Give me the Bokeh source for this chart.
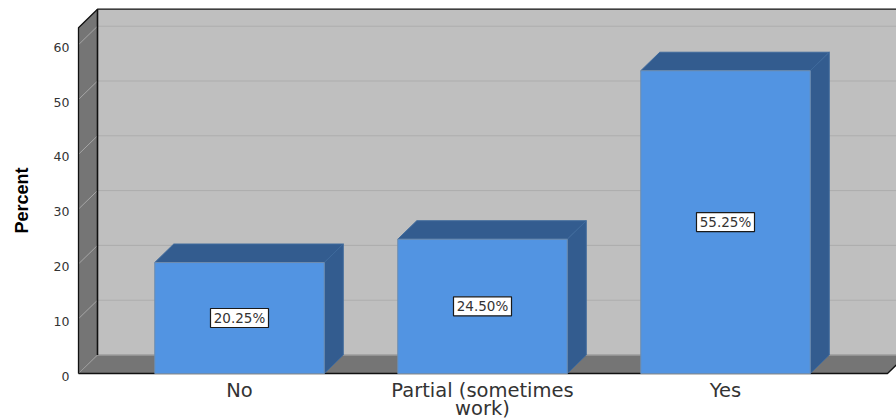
import math

from bokeh.core.properties import value
from bokeh.embed import file_html
from bokeh.models import ColumnDataSource, FixedTicker, Label, LinearAxis, Range1d
from bokeh.plotting import figure
from bokeh.resources import INLINE

categories = ["No", "Partial (sometimes", "Yes"]
category_second_line = {1: "work)"}
percentages = [20.25, 24.50, 55.25]
percent_labels = ["20.25%", "24.50%", "55.25%"]
y_ticks = [0, 10, 20, 30, 40, 50, 60]

# Scale and 3D projection settings
WIDTH, HEIGHT = 896, 419
X_UNIT = 243.0          # pixels per category
Y_UNIT = 5.48           # pixels per percent
X_ORIGIN = 239.0        # canvas x of the first category
Y_ORIGIN = 373.0        # canvas y of zero percent
DX = 19 / X_UNIT        # depth offset along x, in data units
DY = 18.5 / Y_UNIT      # depth offset along y, in data units
BAR_W = 169.5 / X_UNIT
WALL_TOP = 63.1
LEFT = -161 / X_UNIT
RIGHT = 648 / X_UNIT
TICK_LABEL_DROP = 2.5 / Y_UNIT   # tick labels sit slightly below their gridline ends

WALL = "#bfbfbf"
SIDE = "#757575"
FRONT = "#5294e2"
SHADE = "#335c8f"
EDGE = "#3f6a9c"
TEXT = "#333333"

# The plot frame fills the canvas; both axes are pinned inside it
y_start = -(HEIGHT - Y_ORIGIN) / Y_UNIT
y_end = Y_ORIGIN / Y_UNIT
p = figure(
    width=WIDTH, height=HEIGHT, output_backend="svg", toolbar_location=None,
    x_range=Range1d(-X_ORIGIN / X_UNIT, (WIDTH - X_ORIGIN) / X_UNIT),
    y_range=Range1d(y_start, y_end),
    y_axis_location=None,
    min_border_left=0, min_border_right=0, min_border_top=0, min_border_bottom=0,
    outline_line_color=None, background_fill_color="white", border_fill_color="white",
)
p.grid.visible = False

# Back wall, floor and left wall
p.patch([LEFT + DX, RIGHT + 2 * DX, RIGHT + 2 * DX, LEFT + DX],
        [DY, DY, WALL_TOP + DY, WALL_TOP + DY], fill_color=WALL, line_color=None)
p.patch([LEFT, RIGHT, RIGHT + DX, LEFT + DX], [0, 0, DY, DY], fill_color=SIDE, line_color=None)
p.patch([LEFT, LEFT + DX, LEFT + DX, LEFT], [0, DY, WALL_TOP + DY, WALL_TOP],
        fill_color=SIDE, line_color=None)

# Gridlines run across the back wall and slant down the left wall
grid = [t for t in y_ticks if t > 0]
p.segment([LEFT + DX] * len(grid), [t + DY for t in grid],
          [RIGHT + 2 * DX] * len(grid), [t + DY for t in grid], line_color="#adadad", line_width=1)
p.segment([LEFT] * len(grid), grid, [LEFT + DX] * len(grid), [t + DY for t in grid],
          line_color="#a6a6a6", line_width=1)
p.segment([LEFT], [0], [LEFT + DX], [DY], line_color="#9a9a9a", line_width=1)
p.segment([LEFT + DX], [DY], [RIGHT + 2 * DX], [DY], line_color="#9c9c9c", line_width=1.5)

# Dark frame edges of the box
p.line([LEFT, LEFT, LEFT + DX, RIGHT + 2 * DX], [0, WALL_TOP, WALL_TOP + DY, WALL_TOP + DY],
       line_color="#111111", line_width=1.3)
p.line([LEFT + DX, LEFT + DX], [DY, WALL_TOP + DY], line_color="#111111", line_width=1.6)
p.line([LEFT, RIGHT, RIGHT + DX], [0, 0, DY], line_color="#111111", line_width=1.3)

# Bars: top and side faces first, then the front
for i, v in enumerate(percentages):
    x0, x1 = i - BAR_W / 2, i + BAR_W / 2
    p.patch([x0, x1, x1 + DX, x0 + DX], [v, v, v + DY, v + DY],
            fill_color=SHADE, line_color=EDGE, line_width=1)
    p.patch([x1, x1 + DX, x1 + DX, x1], [0, DY, v + DY, v],
            fill_color=SHADE, line_color=EDGE, line_width=1)
    p.quad(left=[x0], right=[x1], bottom=[0], top=[v],
           fill_color=FRONT, line_color="#6e8cae", line_width=1)

# Value labels in white boxes at mid-height of each bar
src = ColumnDataSource(dict(
    x=list(range(len(percentages))),
    y=[v / 2 for v in percentages],
    label=percent_labels,
))
p.rect("x", "y", width=58, height=19, width_units="screen", height_units="screen", source=src,
       fill_color="white", line_color="#1a1a1a", line_width=1.2)
p.text("x", "y", text="label", source=src, text_align="center", text_baseline="middle",
       text_font=value("DejaVu Sans"), text_font_size="13.5px", text_color=TEXT)

# Percent axis, on its own range so the labels can hang a little below the gridlines
p.extra_y_ranges = {"ticks": Range1d(y_start + TICK_LABEL_DROP, y_end + TICK_LABEL_DROP)}
y_axis = LinearAxis(
    y_range_name="ticks",
    fixed_location=LEFT,
    ticker=FixedTicker(ticks=y_ticks),
    axis_line_color=None,
    major_tick_line_color=None,
    minor_tick_line_color=None,
    major_tick_in=0,
    major_tick_out=0,
    minor_tick_out=0,
    major_label_standoff=9,
    major_label_text_font="DejaVu Sans",
    major_label_text_font_size="12.5px",
    major_label_text_color=TEXT,
)
p.add_layout(y_axis, "left")

# Category axis
p.xaxis.fixed_location = 0
p.xaxis.ticker = FixedTicker(ticks=list(range(len(categories))))
p.xaxis.major_label_overrides = {i: c for i, c in enumerate(categories)}
p.xaxis.axis_line_color = None
p.xaxis.major_tick_line_color = None
p.xaxis.minor_tick_line_color = None
p.xaxis.major_tick_in = 0
p.xaxis.major_tick_out = 0
p.xaxis.minor_tick_out = 0
p.xaxis.major_label_standoff = 5
p.xaxis.major_label_orientation = "horizontal"
p.xaxis.major_label_text_font = "DejaVu Sans"
p.xaxis.major_label_text_font_size = "19.5px"
p.xaxis.major_label_text_color = TEXT

# The long category wraps onto a second line beneath its tick label
for i, line in category_second_line.items():
    p.add_layout(Label(x=i, y=11, x_units="data", y_units="screen", level="overlay",
                       text=line, text_align="center", text_baseline="middle",
                       text_font="DejaVu Sans", text_font_size="19.5px", text_color=TEXT))

# Axis title at the left edge of the canvas
p.add_layout(Label(x=21, y=219, x_units="screen", y_units="screen", level="overlay",
                   text="Percent", angle=math.pi / 2, text_align="center", text_baseline="middle",
                   text_font="Liberation Sans", text_font_style="bold",
                   text_font_size="18px", text_color="#000000"))

open("out.html", "w").write(file_html(p, INLINE))
